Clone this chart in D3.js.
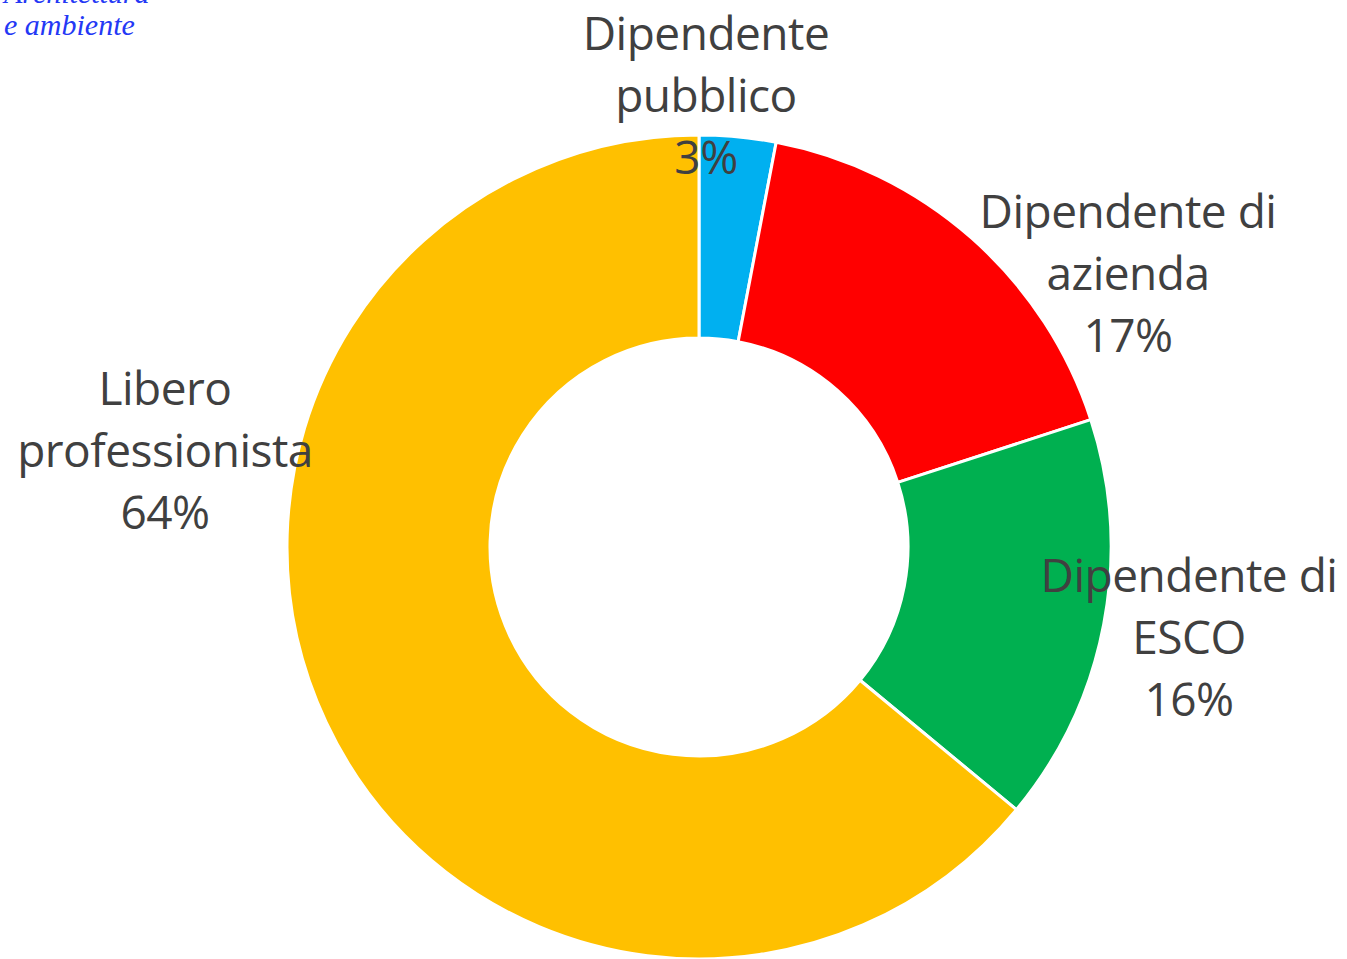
<!DOCTYPE html>
<html>
<head>
<meta charset="utf-8">
<script src="https://cdn.jsdelivr.net/npm/d3@7"></script>
<style>
  body { margin: 0; background: #fff; }
  svg { display: block; }
</style>
</head>
<body>
<svg id="donut" width="1347" height="959"></svg>
<script>
// data
const categories = ["Dipendente pubblico", "Dipendente di azienda", "Dipendente di ESCO", "Libero professionista"];
const values = [3, 17, 16, 64];
const colors = ["#00B0F0", "#FF0000", "#00B050", "#FFC000"];
// label lines (as in the original, wrapped)
const labelLines = [
    ["Dipendente", "pubblico"],
    ["Dipendente di", "azienda"],
    ["Dipendente di", "ESCO"],
    ["Libero", "professionista"]
];

const svg = d3.select("#donut");
const width = 1347, height = 959;
const cx = 699, cy = 547;
const outerR = 412, innerR = 209;

// logo fragment cut off at the top-left
const logo = svg.append("g")
    .attr("font-family", "'Liberation Serif', serif")
    .attr("font-style", "italic")
    .attr("font-size", 30)
    .attr("fill", "#2438f5");
logo.append("text").attr("x", 4).attr("y", 3).text("Architettura");
logo.append("text").attr("x", 4).attr("y", 35).text("e ambiente");

const g = svg.append("g").attr("transform", `translate(${cx},${cy})`);

const pie = d3.pie().sort(null).value(d => d);
const arcs = pie(values);
const arc = d3.arc().innerRadius(innerR).outerRadius(outerR);

g.selectAll(".slice")
    .data(arcs)
    .enter()
    .append("path")
    .attr("class", "slice")
    .attr("d", arc)
    .attr("fill", (d, i) => colors[i])
    .attr("stroke", "#fff")
    .attr("stroke-width", 3);

// label anchors relative to centre (best-fit placement like the original)
const labelAnchor = [
    [7, -497],
    [429, -319],
    [490, 45],
    [-534, -142]
];
const lineH = 62;

const labels = g.selectAll(".label")
    .data(arcs)
    .enter()
    .append("text")
    .attr("class", "label")
    .attr("text-anchor", "middle")
    .attr("font-family", "'Open Sans', sans-serif")
    .attr("font-size", 46)
    .attr("fill", "#404040")
    .attr("transform", (d, i) => `translate(${labelAnchor[i][0]},${labelAnchor[i][1]})`);

labels.each(function(d, i) {
    const t = d3.select(this);
    const total = d3.sum(values);
    const lines = labelLines[i].concat([Math.round(d.data / total * 100) + "%"]);
    lines.forEach((s, k) => {
        t.append("tspan")
            .attr("x", 0)
            .attr("y", k * lineH)
            .attr("letter-spacing", -0.5)
            .text(s);
    });
});
</script>
</body>
</html>
